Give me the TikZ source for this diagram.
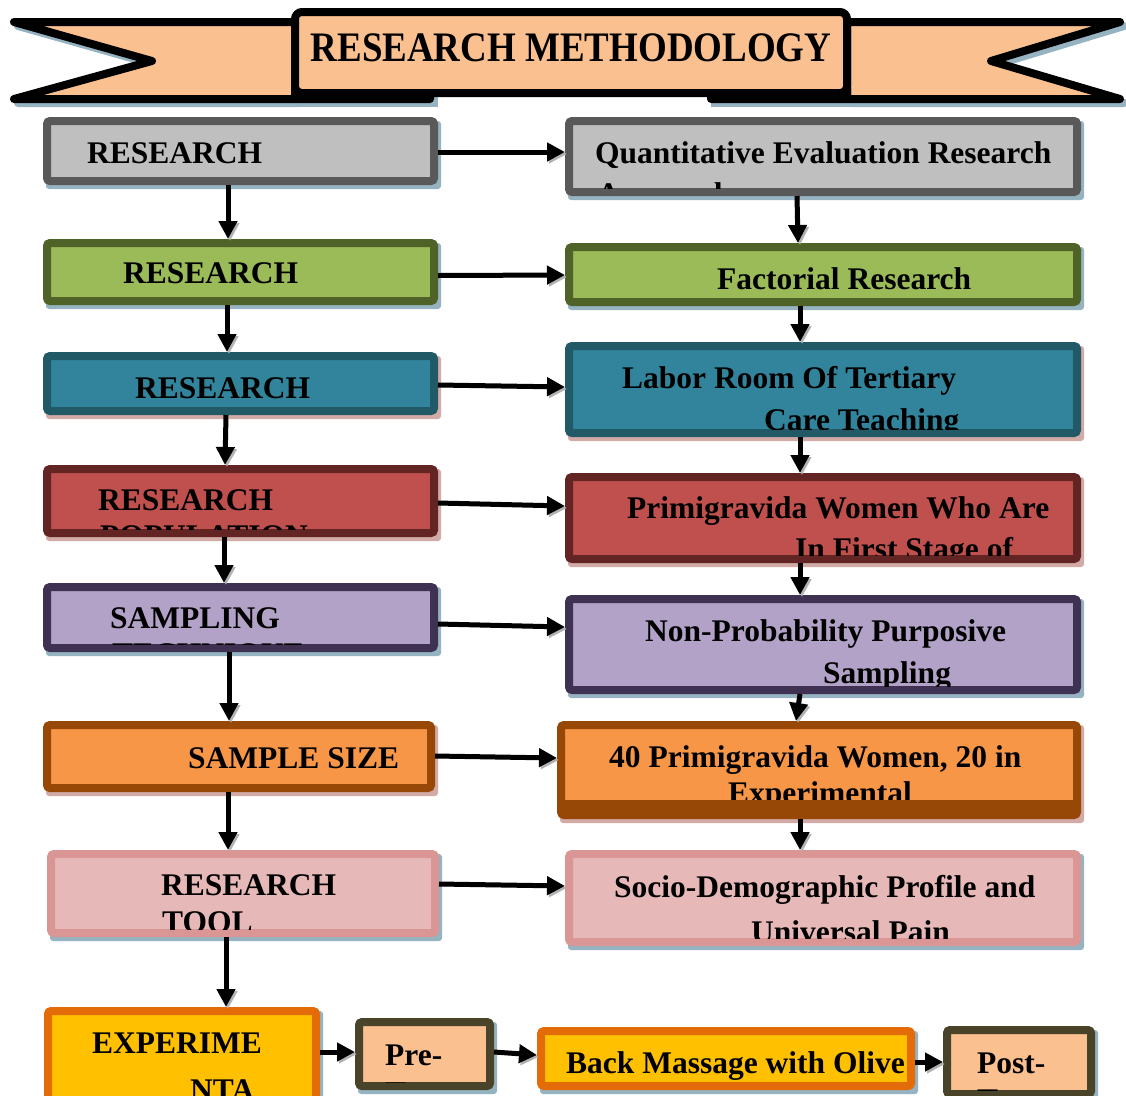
\documentclass[tikz,border=0pt]{standalone}
\usepackage{fontspec}
\setmainfont{Liberation Serif}
\usetikzlibrary{arrows.meta}
\definecolor{gF}{HTML}{BFBFBF}\definecolor{gD}{HTML}{595959}
\definecolor{grF}{HTML}{9BBB59}\definecolor{grD}{HTML}{4F6228}
\definecolor{tF}{HTML}{31849B}\definecolor{tD}{HTML}{215967}
\definecolor{rF}{HTML}{C0504D}\definecolor{rD}{HTML}{632523}
\definecolor{pF}{HTML}{B2A2C7}\definecolor{pD}{HTML}{3F3151}
\definecolor{oF}{HTML}{F79646}\definecolor{oD}{HTML}{974806}
\definecolor{kF}{HTML}{E6B9B8}\definecolor{kD}{HTML}{D99694}
\definecolor{yF}{HTML}{FFC000}\definecolor{yD}{HTML}{E36C09}
\definecolor{peach}{HTML}{FAC090}\definecolor{olD}{HTML}{494429}
\definecolor{shB}{HTML}{95B3C0}\definecolor{shR}{HTML}{D2ABA6}
\tikzset{
  box/.style={rectangle, rounded corners=3pt, line width=8pt, outer sep=4pt, inner sep=0pt},
  txt/.style={font=\bfseries\fontsize{31.5}{36}\selectfont, inner sep=0pt, anchor=base west, text=black},
  arr/.style={line width=5pt, -{Triangle[length=18pt,width=18pt]},
    preaction={draw=black!30, transform canvas={shift={(2pt,-2pt)}}}},
}
\newcommand\mkbox[8]{%
  \fill[#8, rounded corners=3pt] (#2+3,#3+4) rectangle (#4+3,#5+4);
  \node[box, fill=#6, draw=#7, minimum width={#4-#2-8}, minimum height={#5-#3-8}] (#1) at ({(#2+#4)/2},{(#3+#5)/2}) {};
}
\newcommand\clipin[1]{\clip ([shift={(8pt,-8pt)}]#1.north west) rectangle ([shift={(-8pt,8pt)}]#1.south east);}
\begin{document}
\begin{tikzpicture}[x=1pt,y=-1pt]
\useasboundingbox (0,0) rectangle (1126,1095);
\clip (0,0) rectangle (1126,1095);
% ---------- banner ----------
\begin{scope}[shift={(4,4)}]
  \draw[shB, fill=shB, line width=8pt, line join=round] (14,22) -- (295,22) -- (295,99) -- (14,99) -- (152,61) -- cycle;
  \draw[shB, fill=shB, line width=8pt, line join=round] (847,22) -- (1120,22) -- (991,61) -- (1120,99) -- (847,99) -- cycle;
  \fill[shB] (291,86) rectangle (434,103);
  \fill[shB] (707,86) rectangle (851,103);
\end{scope}
\draw[fill=peach, line width=8pt, line join=round] (14,22) -- (295,22) -- (295,99) -- (14,99) -- (152,61) -- cycle;
\draw[fill=peach, line width=8pt, line join=round] (847,22) -- (1120,22) -- (991,61) -- (1120,99) -- (847,99) -- cycle;
\fill[rounded corners=4pt] (291,84) rectangle (434,103);
\fill[rounded corners=4pt] (707,84) rectangle (851,103);
\node[rectangle, rounded corners=7pt, line width=8pt, draw=black, fill=peach,
  minimum width=552, minimum height=81, inner sep=0pt] (banner) at (571,52.5) {};
\node[font=\bfseries\fontsize{42}{48}\selectfont, inner sep=0pt, anchor=base] (title) at (571,61)
  {\scalebox{0.88}[1]{RESEARCH METHODOLOGY}};
% ---------- left column ----------
\mkbox{L1}{43}{117}{438}{185}{gF}{gD}{shB}
\mkbox{L2}{43}{239}{438}{305}{grF}{grD}{shB}
\mkbox{L3}{43}{352}{438}{415}{tF}{tD}{shR}
\mkbox{L4}{43}{465}{438}{537}{rF}{rD}{shR}
\mkbox{L5}{43}{583}{438}{652}{pF}{pD}{shB}
\mkbox{L6}{43}{721}{435}{792}{oF}{oD}{shR}
\mkbox{L7}{47}{850}{439}{937}{kF}{kD}{shB}
\mkbox{L8}{44}{1007}{320}{1110}{yF}{yD}{shB}
% ---------- right column ----------
\mkbox{R1}{565}{117}{1081}{196}{gF}{gD}{shB}
\mkbox{R2}{565}{243}{1081}{306}{grF}{grD}{shB}
\mkbox{R3}{565}{342}{1081}{437}{tF}{tD}{shR}
\mkbox{R4}{565}{473}{1081}{563}{rF}{rD}{shR}
\mkbox{R5}{565}{595}{1081}{694}{pF}{pD}{shB}
\mkbox{R6}{557}{721}{1081}{819}{oF}{oD}{shR}
\mkbox{R7}{565}{850}{1081}{946}{kF}{kD}{shB}
% ---------- bottom row ----------
\mkbox{B1}{355}{1018}{494}{1090}{peach}{olD}{shB}
\mkbox{B2}{537}{1027}{915}{1090}{yF}{yD}{shB}
\mkbox{B3}{943}{1026}{1095}{1098}{peach}{olD}{shB}
% ---------- texts ----------
\begin{scope}\clipin{L1}
  \node[txt] (L1a) at (87,163) {RESEARCH};
  \node[txt] (L1b) at (92,199) {APPROACH};
\end{scope}
\begin{scope}\clipin{L2}
  \node[txt] (L2a) at (123,283) {RESEARCH};
\end{scope}
\begin{scope}\clipin{L3}
  \node[txt] (L3a) at (135,398) {RESEARCH};
\end{scope}
\begin{scope}\clipin{L4}
  \node[txt] (L4a) at (98,510) {RESEARCH};
  \node[txt] (L4b) at (100,546) {POPULATION};
\end{scope}
\begin{scope}\clipin{L5}
  \node[txt] (L5a) at (110,628) {SAMPLING};
  \node[txt] (L5b) at (112,664) {TECHNIQUE};
\end{scope}
\begin{scope}\clipin{L6}
  \node[txt] (L6a) at (188,768) {SAMPLE SIZE};
\end{scope}
\begin{scope}\clipin{L7}
  \node[txt] (L7a) at (161,895) {RESEARCH};
  \node[txt] (L7b) at (162,932) {TOOL};
\end{scope}
\begin{scope}\clipin{L8}
  \node[txt] (L8a) at (92,1053) {EXPERIME};
  \node[txt] (L8b) at (190,1100) {NTA};
\end{scope}
\begin{scope}\clipin{R1}
  \node[txt] (R1a) at (595,163) {Quantitative Evaluation Research};
  \node[txt] (R1b) at (597,204) {Approach};
\end{scope}
\begin{scope}\clipin{R2}
  \node[txt] (R2a) at (717,289) {Factorial Research};
\end{scope}
\begin{scope}\clipin{R3}
  \node[txt] (R3a) at (622,388) {Labor Room Of Tertiary};
  \node[txt] (R3b) at (764,430) {Care Teaching};
\end{scope}
\begin{scope}\clipin{R4}
  \node[txt] (R4a) at (627,518) {Primigravida Women Who Are};
  \node[txt] (R4b) at (795,559) {In First Stage of};
\end{scope}
\begin{scope}\clipin{R5}
  \node[txt] (R5a) at (645,641) {Non-Probability Purposive};
  \node[txt] (R5b) at (823,683) {Sampling};
\end{scope}
\begin{scope}\clipin{R6}
  \node[txt] (R6a) at (609,767) {40 Primigravida Women, 20 in};
  \node[txt] (R6b) at (728,803) {Experimental};
\end{scope}
\fill[oD] ([shift={(8pt,8pt)}]R6.south west) rectangle ([shift={(-8pt,19pt)}]R6.south east);
\begin{scope}\clipin{R7}
  \node[txt] (R7a) at (614,897) {Socio-Demographic Profile and};
  \node[txt] (R7b) at (751,942) {Universal Pain};
\end{scope}
\begin{scope}\clipin{B1}
  \node[txt] (B1a) at (385,1065) {Pre-};
  \node[txt] (B1b) at (385,1103) {Test};
\end{scope}
\begin{scope}\clipin{B2}
  \node[txt] (B2a) at (566,1073) {Back Massage with Olive};
\end{scope}
\begin{scope}\clipin{B3}
  \node[txt] (B3a) at (977,1073) {Post-};
  \node[txt] (B3b) at (977,1110) {Test};
\end{scope}
% ---------- horizontal arrows ----------
\draw[arr] ([yshift=-1pt]L1.east) -- ([yshift=4.5pt]R1.west);
\draw[arr] ([yshift=-3.5pt]L2.east) -- ([yshift=-0.5pt]R2.west);
\draw[arr] ([yshift=-1.5pt]L3.east) -- ([yshift=2.5pt]R3.west);
\draw[arr] ([yshift=-2pt]L4.east) -- ([yshift=12pt]R4.west);
\draw[arr] ([yshift=-6.5pt]L5.east) -- ([yshift=17.5pt]R5.west);
\draw[arr] ([yshift=0.5pt]L6.east) -- ([yshift=12pt]R6.west);
\draw[arr] ([yshift=9.5pt]L7.east) -- ([yshift=12pt]R7.west);
\draw[arr] ([yshift=6.5pt]L8.east) -- ([yshift=2pt]B1.west);
\draw[arr] ([yshift=2pt]B1.east) -- ([yshift=3.5pt]B2.west);
\draw[arr] ([yshift=-3.5pt]B2.east) -- ([yshift=0pt]B3.west);
% ---------- vertical arrows ----------
\draw[arr] ([xshift=-12.5pt]L1.south) -- ([xshift=-12.5pt]L2.north);
\draw[arr] ([xshift=-13.5pt]L2.south) -- ([xshift=-13.5pt]L3.north);
\draw[arr] ([xshift=-14.5pt]L3.south) -- ([xshift=-15.5pt]L4.north);
\draw[arr] ([xshift=-16.5pt]L4.south) -- ([xshift=-16.5pt]L5.north);
\draw[arr] ([xshift=-11.5pt]L5.south) -- ([xshift=-10pt]L6.north);
\draw[arr] ([xshift=-11pt]L6.south) -- ([xshift=-15pt]L7.north);
\draw[arr] ([xshift=-17pt]L7.south) -- ([xshift=44pt]L8.north);
\draw[arr] ([xshift=-26pt]R1.south) -- ([xshift=-25pt]R2.north);
\draw[arr] ([xshift=-23pt]R2.south) -- ([xshift=-23pt]R3.north);
\draw[arr] ([xshift=-23pt]R3.south) -- ([xshift=-23pt]R4.north);
\draw[arr] ([xshift=-23pt]R4.south) -- ([xshift=-23pt]R5.north);
\draw[arr] ([xshift=-23pt]R5.south) -- ([xshift=-23pt]R6.north);
\draw[arr] ([xshift=-19pt]R6.south) -- ([xshift=-23pt]R7.north);
\end{tikzpicture}
\end{document}
